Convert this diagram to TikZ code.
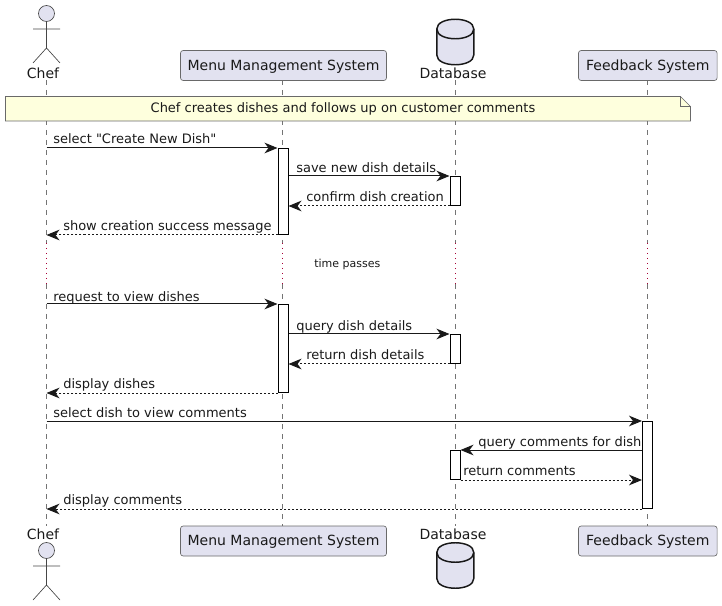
\documentclass[tikz,border=0pt]{standalone}
\usepackage{fontspec}
\setmainfont[Ligatures=TeXOff]{DejaVu Sans}
\usetikzlibrary{arrows.meta}
\definecolor{partfill}{HTML}{E2E2F0}
\definecolor{notefill}{HTML}{FEFFDD}
\definecolor{linegray}{HTML}{181818}
\definecolor{delayred}{HTML}{A80036}
\tikzset{
  partbox/.style={draw=linegray!65, line width=0.5pt, fill=partfill, rounded corners=2pt, inner sep=0pt, text=black!90, font=\fontsize{10.5}{12}\selectfont},
  bartext/.style={anchor=base west, inner sep=0pt, text=black!90, font=\fontsize{9.75}{12}\selectfont},
  headtext/.style={anchor=base, inner sep=0pt, text=black!90, font=\fontsize{10.5}{12}\selectfont},
  lifeline/.style={draw=linegray!60, line width=0.5pt, dash pattern=on 3.75pt off 3.75pt},
  delayline/.style={draw=delayred, line width=0.75pt, dash pattern=on 0.75pt off 3pt},
  actbar/.style={draw=black, fill=white, line width=0.75pt, minimum width=7.5pt, inner sep=0pt},
  msg/.style={draw=black!90, line width=0.75pt, -{Stealth[length=9.75pt, width=8pt, inset=3pt]}},
  reply/.style={msg, dash pattern=on 1.5pt off 1.5pt},
  actorline/.style={draw=linegray!80, line width=0.5pt},
  dbcyl/.pic={
    \draw [line width=1.1pt, draw=linegray, fill=partfill] (-18.5,-13) .. controls (-18.5,-26) and (18.5,-26) .. (18.5,-13)
      -- (18.5,13) .. controls (18.5,26) and (-18.5,26) .. (-18.5,13) -- cycle;
    \draw [line width=1.1pt, draw=linegray] (-18.5,-13) .. controls (-18.5,0) and (18.5,0) .. (18.5,-13);
  }
}
\begin{document}
\begin{tikzpicture}[x=0.75pt, y=-0.75pt]
  \useasboundingbox (0,0) rectangle (722,606);
  % lifelines
  \coordinate (chefT) at (46.5,80);
  \coordinate (chefU) at (46.5,243);
  \coordinate (chefV) at (46.5,284);
  \coordinate (chefB) at (46.5,526);
  \coordinate (menuT) at (282.5,80);
  \coordinate (menuU) at (282.5,243);
  \coordinate (menuV) at (282.5,284);
  \coordinate (menuB) at (282.5,526);
  \coordinate (baseT) at (455.5,80);
  \coordinate (baseU) at (455.5,243);
  \coordinate (baseV) at (455.5,284);
  \coordinate (baseB) at (455.5,526);
  \coordinate (feedT) at (647.5,80);
  \coordinate (feedU) at (647.5,243);
  \coordinate (feedV) at (647.5,284);
  \coordinate (feedB) at (647.5,526);
  \draw [lifeline] (chefT) -- (chefU);
  \draw [delayline] (chefU) -- (chefV);
  \draw [lifeline] (chefV) -- (chefB);
  \draw [lifeline] (menuT) -- (menuU);
  \draw [delayline] (menuU) -- (menuV);
  \draw [lifeline] (menuV) -- (menuB);
  \draw [lifeline] (baseT) -- (baseU);
  \draw [delayline] (baseU) -- (baseV);
  \draw [lifeline] (baseV) -- (baseB);
  \draw [lifeline] (feedT) -- (feedU);
  \draw [delayline] (feedU) -- (feedV);
  \draw [lifeline] (feedV) -- (feedB);
  % top row
  \draw [actorline, fill=partfill] (46.5,13.5) circle (8);
  \draw [actorline] (46.5,21.5) -- (46.5,48) (33,29) -- (60,29) (33,63) -- (46.5,48) -- (60,63);
  \node (chefTop) [headtext] at (43,79) {Chef};
  \node (menuTop) [partbox, minimum width=154.5pt, minimum height=22.5pt, text height=8pt, text depth=1.2pt] at (283.5,65.5) {Menu Management System};
  \pic at (455.3,42) {dbcyl};
  \node (baseTop) [headtext] at (453,79) {Database};
  \node (feedTop) [partbox, minimum width=104pt, minimum height=22.5pt, text height=8pt, text depth=1.2pt] at (647.8,65.5) {Feedback System};
  % note
  \draw [draw=linegray!65, line width=0.5pt, fill=notefill] (5.5,96.5) -- (680.5,96.5) -- (690.5,106.5) -- (690.5,121) -- (5.5,121) -- cycle;
  \draw [draw=linegray!65, line width=0.5pt] (680.5,96.5) -- (680.5,106.5) -- (690.5,106.5);
  \node (noteText) [bartext, anchor=base] at (343,113) {Chef creates dishes and follows up on customer comments};
  % bars
  \node (menuA) [actbar, minimum height=64.5pt, anchor=north] at (283,148) {};
  \node (baseA) [actbar, minimum height=21.75pt, anchor=north] at (455,176) {};
  \node (menuC) [actbar, minimum height=66pt, anchor=north] at (283,304) {};
  \node (baseC) [actbar, minimum height=21.75pt, anchor=north] at (455,334) {};
  \node (feedA) [actbar, minimum height=65.25pt, anchor=north] at (647.5,421) {};
  \node (baseD) [actbar, minimum height=21.75pt, anchor=north] at (455,450) {};
  % messages
  \draw [msg] (chefT |- menuA.north) -- (menuA.north west);
  \node (m1) [bartext] at (53,143.5) {select "Create New Dish"};
  \draw [msg] (menuA.east |- baseA.north) -- (baseA.north west);
  \node (m2) [bartext] at (296,173) {save new dish details};
  \draw [reply] (baseA.south west) -- (menuA.east |- baseA.south);
  \node (m3) [bartext] at (306,202) {confirm dish creation};
  \draw [reply] (menuA.south west) -- (chefT |- menuA.south);
  \node (m4) [bartext] at (63,231) {show creation success message};
  \node (delayText) [anchor=base west, inner sep=0pt, text=black!90, font=\fontsize{8.25}{10}\selectfont] at (314,267.5) {time passes};
  \draw [msg] (chefT |- menuC.north) -- (menuC.north west);
  \node (m5) [bartext] at (53,301) {request to view dishes};
  \draw [msg] (menuC.east |- baseC.north) -- (baseC.north west);
  \node (m6) [bartext] at (296,330) {query dish details};
  \draw [reply] (baseC.south west) -- (menuC.east |- baseC.south);
  \node (m7) [bartext] at (306,359) {return dish details};
  \draw [reply] (menuC.south west) -- (chefT |- menuC.south);
  \node (m8) [bartext] at (63,388) {display dishes};
  \draw [msg] (chefT |- feedA.north) -- (feedA.north west);
  \node (m9) [bartext] at (53,417) {select dish to view comments};
  \draw [msg] (feedA.west |- baseD.north) -- (baseD.north east);
  \node (m10) [bartext] at (478,446) {query comments for dish};
  \draw [reply] (baseD.south east) -- (feedA.west |- baseD.south);
  \node (m11) [bartext] at (463,475) {return comments};
  \draw [reply] (feedA.south west) -- (chefT |- feedA.south);
  \node (m12) [bartext] at (63,504) {display comments};
  % bottom row
  \node (chefBot) [headtext] at (43,539) {Chef};
  \draw [actorline, fill=partfill] (46.5,550.5) circle (8);
  \draw [actorline] (46.5,558.5) -- (46.5,585) (33,566) -- (60,566) (33,600) -- (46.5,585) -- (60,600);
  \node (menuBot) [partbox, minimum width=154.5pt, minimum height=22.5pt, text height=8pt, text depth=0.6pt] at (283.5,541) {Menu Management System};
  \node (baseBot) [headtext] at (453,539) {Database};
  \pic at (455.3,565.5) {dbcyl};
  \node (feedBot) [partbox, minimum width=104pt, minimum height=22.5pt, text height=8pt, text depth=0.6pt] at (647.8,541) {Feedback System};
\end{tikzpicture}
\end{document}
